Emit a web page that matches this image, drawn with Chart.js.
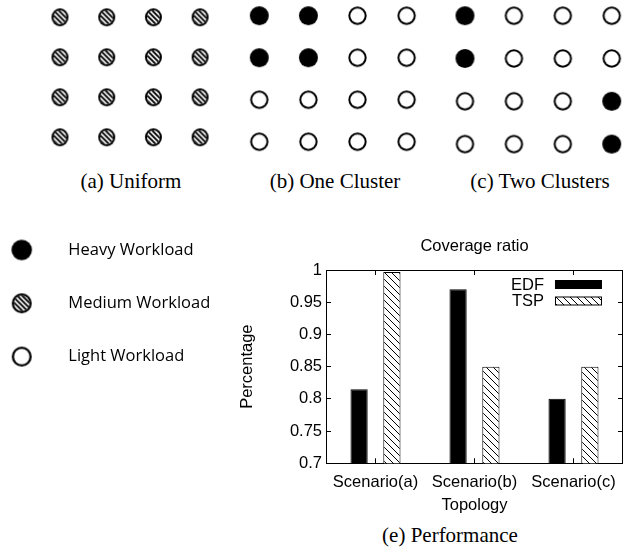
<!DOCTYPE html>
<html>
<head>
<meta charset="utf-8">
<script src="https://cdn.jsdelivr.net/npm/chart.js@4.4.1/dist/chart.umd.min.js"></script>
<style>
  html, body { margin: 0; padding: 0; background: #fff; }
  #figure { position: relative; width: 631px; height: 548px; overflow: hidden; }
  #figure canvas { position: absolute; }
  .caption {
    position: absolute;
    font-family: 'Liberation Serif', serif;
    font-size: 21px;
    color: #000;
    white-space: nowrap;
    transform: translate(-50%, -50%);
  }
</style>
</head>
<body>
<div id="figure">
  <canvas id="gridA" width="230" height="165" style="left:0;top:0"></canvas>
  <canvas id="gridB" width="200" height="165" style="left:230px;top:0"></canvas>
  <canvas id="gridC" width="201" height="165" style="left:430px;top:0"></canvas>
  <div class="caption" style="left:131px;top:181px">(a) Uniform</div>
  <div class="caption" style="left:335px;top:181px">(b) One Cluster</div>
  <div class="caption" style="left:540px;top:181px">(c) Two Clusters</div>
  <canvas id="workloadLegend" width="230" height="160" style="left:0;top:220px"></canvas>
  <canvas id="coverageChart" width="401" height="290" style="left:230px;top:230px"></canvas>
  <div class="caption" style="left:450px;top:535px">(e) Performance</div>
</div>
<script>
// node grids, H = heavy, M = medium, L = light workload
const gridRows = [1, 2, 3, 4];
const gridCols = [1, 2, 3, 4];
const uniformGrid = [
    ['M', 'M', 'M', 'M'],
    ['M', 'M', 'M', 'M'],
    ['M', 'M', 'M', 'M'],
    ['M', 'M', 'M', 'M']
];
const oneClusterGrid = [
    ['H', 'H', 'L', 'L'],
    ['H', 'H', 'L', 'L'],
    ['L', 'L', 'L', 'L'],
    ['L', 'L', 'L', 'L']
];
const twoClustersGrid = [
    ['H', 'L', 'L', 'L'],
    ['H', 'L', 'L', 'L'],
    ['L', 'L', 'L', 'H'],
    ['L', 'L', 'L', 'H']
];

const workloadKeys = ['H', 'M', 'L'];
const workloadLabels = ['Heavy Workload', 'Medium Workload', 'Light Workload'];

// coverage ratio
const scenarios = ['Scenario(a)', 'Scenario(b)', 'Scenario(c)'];
const edfValues = [0.815, 0.97, 0.80];
const tspValues = [0.997, 0.85, 0.85];
const yTickValues = [0.7, 0.75, 0.8, 0.85, 0.9, 0.95, 1];

const SANS = '"Liberation Sans", Arial, sans-serif';
const axisFont = { family: SANS, size: 16.5 };

// value 1 lands on firstPx, each unit is stepPx wide
const spanFor = (firstPx, stepPx, sizePx) => ({
    min: 1 - firstPx / stepPx,
    max: 1 + (sizePx - firstPx) / stepPx
});

const makeDot = (kind, w, h, lw = 2) => {
    const c = document.createElement('canvas');
    c.width = Math.ceil(w) + 2;
    c.height = Math.ceil(h) + 2;
    const g = c.getContext('2d');
    const cx = c.width / 2;
    const cy = c.height / 2;
    const ellipse = (rx, ry) => {
        g.beginPath();
        g.ellipse(cx, cy, rx, ry, 0, 0, Math.PI * 2);
    };
    ellipse(w / 2, h / 2);
    g.fillStyle = '#000';
    g.fill();
    if (kind !== 'H') {
        ellipse(w / 2 - lw, h / 2 - lw);
        g.fillStyle = '#fff';
        g.fill();
    }
    if (kind === 'M') {
        g.save();
        g.clip();
        g.strokeStyle = '#000';
        g.lineWidth = 1.9;
        for (let k = -c.height; k < c.width; k += 5) {
            g.beginPath();
            g.moveTo(k, 0);
            g.lineTo(k + c.height, c.height);
            g.stroke();
        }
        g.restore();
    }
    return c;
};

const dotsA = { M: makeDot('M', 17, 18) };
const dotsBC = { H: makeDot('H', 19, 19), L: makeDot('L', 18.3, 18.3) };
const dotsLegend = { H: makeDot('H', 20.5, 20.5), M: makeDot('M', 20, 20, 2.2), L: makeDot('L', 20, 20, 2.3) };

const baseOptions = {
    responsive: false,
    animation: false,
    events: [],
    layout: { padding: 0, autoPadding: false },
    plugins: { legend: { display: false }, tooltip: { enabled: false } }
};

const createGridChart = (id, grid, dots, place) => {
    const canvas = document.getElementById(id);
    const points = [];
    gridRows.forEach((r, i) => {
        gridCols.forEach((c, j) => points.push({ x: c, y: r, w: grid[i][j] }));
    });
    return new Chart(canvas, {
        type: 'scatter',
        data: {
            datasets: [{
                data: points,
                pointStyle: (ctx) => dots[ctx.raw.w],
                pointRadius: 10,
                clip: false
            }]
        },
        options: {
            ...baseOptions,
            scales: {
                x: { display: false, ...spanFor(place.x0, place.dx, canvas.width) },
                y: { display: false, reverse: true, ...spanFor(place.y0, place.dy, canvas.height) }
            }
        }
    });
};

createGridChart('gridA', uniformGrid, dotsA, { x0: 60, dx: 46.7, y0: 17.3, dy: 40 });
createGridChart('gridB', oneClusterGrid, dotsBC, { x0: 29.3, dx: 49.1, y0: 15.7, dy: 42 });
createGridChart('gridC', twoClustersGrid, dotsBC, { x0: 35, dx: 48.9, y0: 15.7, dy: 42.8 });

// workload legend on the left
const legendLabels = {
    id: 'legendLabels',
    afterDatasetsDraw(chart) {
        const { ctx } = chart;
        const meta = chart.getDatasetMeta(0);
        ctx.save();
        ctx.font = '16.5px "Open Sans", sans-serif';
        ctx.fillStyle = '#000';
        ctx.textAlign = 'left';
        ctx.textBaseline = 'middle';
        meta.data.forEach((pt, i) => ctx.fillText(workloadLabels[i], pt.x + 46.6, pt.y));
        ctx.restore();
    }
};

const legendCanvas = document.getElementById('workloadLegend');
new Chart(legendCanvas, {
    type: 'scatter',
    data: {
        datasets: [{
            data: workloadKeys.map((w, i) => ({ x: 1, y: i + 1, w })),
            pointStyle: (ctx) => dotsLegend[ctx.raw.w],
            pointRadius: 10,
            clip: false
        }]
    },
    options: {
        ...baseOptions,
        scales: {
            x: { display: false, ...spanFor(21.7, 50, legendCanvas.width) },
            y: { display: false, reverse: true, ...spanFor(30, 53.3, legendCanvas.height) }
        }
    },
    plugins: [legendLabels]
});

// coverage ratio bar chart
const barCanvas = document.getElementById('coverageChart');
const hatchPattern = (() => {
    const s = 7;
    const p = document.createElement('canvas');
    p.width = s;
    p.height = s;
    const g = p.getContext('2d');
    g.fillStyle = '#fff';
    g.fillRect(0, 0, s, s);
    g.strokeStyle = '#000';
    g.lineWidth = 1;
    [-s, 0, s].forEach((k) => {
        g.beginPath();
        g.moveTo(k, 0);
        g.lineTo(k + s, s);
        g.stroke();
    });
    return barCanvas.getContext('2d').createPattern(p, 'repeat');
})();

const insideLegend = {
    id: 'insideLegend',
    afterDatasetsDraw(chart) {
        const { ctx, chartArea } = chart;
        ctx.save();
        ctx.font = `16.5px ${SANS}`;
        ctx.textAlign = 'right';
        ctx.textBaseline = 'middle';
        ctx.lineWidth = 1;
        chart.data.datasets.forEach((ds, i) => {
            const y = chartArea.top + 14.5 + i * 16.5;
            ctx.fillStyle = '#000';
            ctx.fillText(ds.label, chartArea.right - 79, y + 0.5);
            ctx.fillStyle = ds.backgroundColor;
            ctx.fillRect(chartArea.right - 67.5, y - 4, 46, 8);
            ctx.strokeStyle = '#000';
            ctx.strokeRect(chartArea.right - 67.5, y - 4, 46, 8);
        });
        ctx.restore();
    }
};

const tickGrid = { offset: false, drawOnChartArea: false, tickLength: -5, color: '#000' };
const setYTicks = (scale) => {
    scale.ticks = yTickValues.map((value) => ({ value }));
};

new Chart(barCanvas, {
    type: 'bar',
    data: {
        labels: scenarios,
        datasets: [
            { label: 'EDF', data: edfValues, backgroundColor: '#000', borderColor: '#000', borderWidth: 1 },
            { label: 'TSP', data: tspValues, backgroundColor: hatchPattern, borderColor: '#000', borderWidth: 1 }
        ]
    },
    options: {
        ...baseOptions,
        layout: { padding: { left: 0, right: 2, top: 0, bottom: 0 } },
        datasets: { bar: { categoryPercentage: 0.663, barPercentage: 0.525 } },
        scales: {
            x: {
                position: 'bottom',
                offset: true,
                grid: tickGrid,
                border: { color: '#000' },
                ticks: { color: '#000', font: axisFont, padding: 14, maxRotation: 0, autoSkip: false },
                title: { display: true, text: 'Topology', color: '#000', font: axisFont, padding: { top: 0, bottom: 5 } },
                afterFit: (s) => { s.height = 56.7; }
            },
            xTop: {
                type: 'category',
                position: 'top',
                offset: true,
                grid: tickGrid,
                border: { color: '#000' },
                ticks: { display: false },
                title: { display: true, text: 'Coverage ratio', color: '#000', font: axisFont, padding: { top: 6.8, bottom: 0 } },
                afterFit: (s) => { s.height = 40; }
            },
            y: {
                position: 'left',
                min: 0.7,
                max: 1,
                beginAtZero: false,
                afterBuildTicks: setYTicks,
                grid: tickGrid,
                border: { color: '#000' },
                ticks: { color: '#000', font: axisFont, padding: 9, callback: (v) => String(v) },
                title: { display: true, text: 'Percentage', color: '#000', font: axisFont, padding: { top: 8, bottom: 0 } },
                afterFit: (s) => { s.width = 96; }
            },
            yRight: {
                position: 'right',
                min: 0.7,
                max: 1,
                beginAtZero: false,
                afterBuildTicks: setYTicks,
                grid: tickGrid,
                border: { color: '#000' },
                ticks: { display: false },
                afterFit: (s) => { s.width = 0; }
            }
        }
    },
    plugins: [insideLegend]
});
</script>
</body>
</html>
